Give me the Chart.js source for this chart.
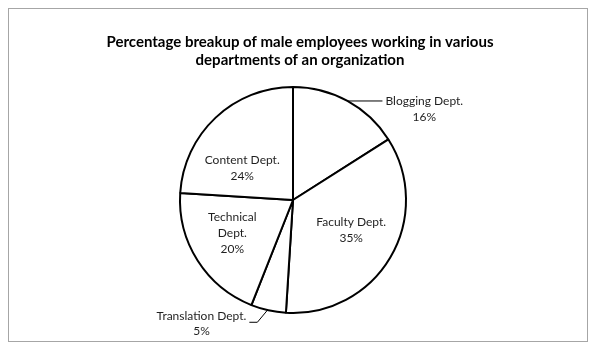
<!DOCTYPE html>
<html>
<head>
<meta charset="utf-8">
<script src="https://cdn.jsdelivr.net/npm/chart.js@4.4.0/dist/chart.umd.min.js"></script>
<style>
html,body{margin:0;padding:0;background:#fff;}
canvas{display:block;}
</style>
</head>
<body>
<canvas id="c" width="604" height="353"></canvas>
<script>
const categories = ["Blogging Dept.", "Faculty Dept.", "Translation Dept.", "Technical Dept.", "Content Dept."];
const values = [16, 35, 5, 20, 24];
const titleLines = ["Percentage breakup of male employees working in various", "departments of an organization"];

const labelStyle = [
  {type: 'outRight'},
  {type: 'inside', frac: 0.58, dAng: -3.2, lines: ["Faculty Dept.", "35%"]},
  {type: 'outLeft'},
  {type: 'inside', frac: 0.61, dAng: 4, lines: ["Technical", "Dept.", "20%"]},
  {type: 'inside', frac: 0.53, dAng: -14.8, lines: ["Content Dept.", "24%"]}
];

const FONT = '12px Lato, "Open Sans", sans-serif';
const LABEL_COLOR = '#1f1f1f';

const decor = {
  id: 'decor',
  beforeDraw(chart) {
    const ctx = chart.ctx;
    ctx.save();
    ctx.fillStyle = '#fff';
    ctx.fillRect(0, 0, chart.width, chart.height);
    ctx.strokeStyle = '#a6a6a6';
    ctx.lineWidth = 1;
    ctx.strokeRect(8.5, 8.5, 579, 333);
    ctx.restore();
  },
  afterDraw(chart) {
    const ctx = chart.ctx;
    ctx.save();
    ctx.fillStyle = '#000';
    ctx.font = 'bold 15px Lato, "Open Sans", sans-serif';
    ctx.textAlign = 'center';
    ctx.textBaseline = 'middle';
    ctx.fillText(titleLines[0], 300, 42);
    ctx.fillText(titleLines[1], 300, 60);

    const meta = chart.getDatasetMeta(0);
    ctx.font = FONT;
    ctx.fillStyle = LABEL_COLOR;
    meta.data.forEach((arc, i) => {
      const p = arc.getProps(['x', 'y', 'startAngle', 'endAngle', 'outerRadius'], true);
      const mid = (p.startAngle + p.endAngle) / 2;
      const st = labelStyle[i];
      const pct = values[i] + '%';
      if (st.type === 'inside') {
        const a = mid + st.dAng * Math.PI / 180;
        const r = p.outerRadius * st.frac;
        const cx = p.x + Math.cos(a) * r;
        const cy = p.y + Math.sin(a) * r;
        const lh = 16;
        const n = st.lines.length;
        ctx.textAlign = 'center';
        st.lines.forEach((t, k) => {
          ctx.fillText(t, cx, cy + (k - (n - 1) / 2) * lh);
        });
      } else if (st.type === 'outRight') {
        const ex = p.x + Math.cos(mid) * p.outerRadius;
        const ey = p.y + Math.sin(mid) * p.outerRadius;
        ctx.strokeStyle = '#000';
        ctx.lineWidth = 1;
        ctx.beginPath();
        ctx.moveTo(ex, ey);
        ctx.lineTo(ex + 35, ey);
        ctx.stroke();
        ctx.textAlign = 'left';
        const tx = ex + 38;
        ctx.fillText(categories[i], tx, ey);
        const w = ctx.measureText(categories[i]).width;
        ctx.textAlign = 'center';
        ctx.fillText(pct, tx + w / 2, ey + 16);
      } else if (st.type === 'outLeft') {
        const ex = p.x + Math.cos(mid) * p.outerRadius;
        const ey = p.y + Math.sin(mid) * p.outerRadius;
        ctx.strokeStyle = '#000';
        ctx.lineWidth = 1;
        ctx.beginPath();
        ctx.moveTo(ex - 1, ey);
        ctx.lineTo(ex - 11, ey + 12);
        ctx.lineTo(ex - 19, ey + 12);
        ctx.stroke();
        ctx.textAlign = 'right';
        const tx = ex - 22;
        const ty = ey + 6;
        ctx.fillText(categories[i], tx, ty);
        const w = ctx.measureText(categories[i]).width;
        ctx.textAlign = 'center';
        ctx.fillText(pct, tx - w / 2, ty + 15);
      }
    });
    ctx.restore();
  }
};

new Chart(document.getElementById('c'), {
  type: 'pie',
  data: {
    labels: categories,
    datasets: [{
      data: values,
      backgroundColor: '#ffffff',
      borderColor: '#000000',
      borderWidth: 2
    }]
  },
  options: {
    responsive: false,
    animation: false,
    layout: {padding: {left: 179, right: 197, top: 86, bottom: 39}},
    plugins: {legend: {display: false}, tooltip: {enabled: false}, title: {display: false}}
  },
  plugins: [decor]
});
</script>
</body>
</html>
